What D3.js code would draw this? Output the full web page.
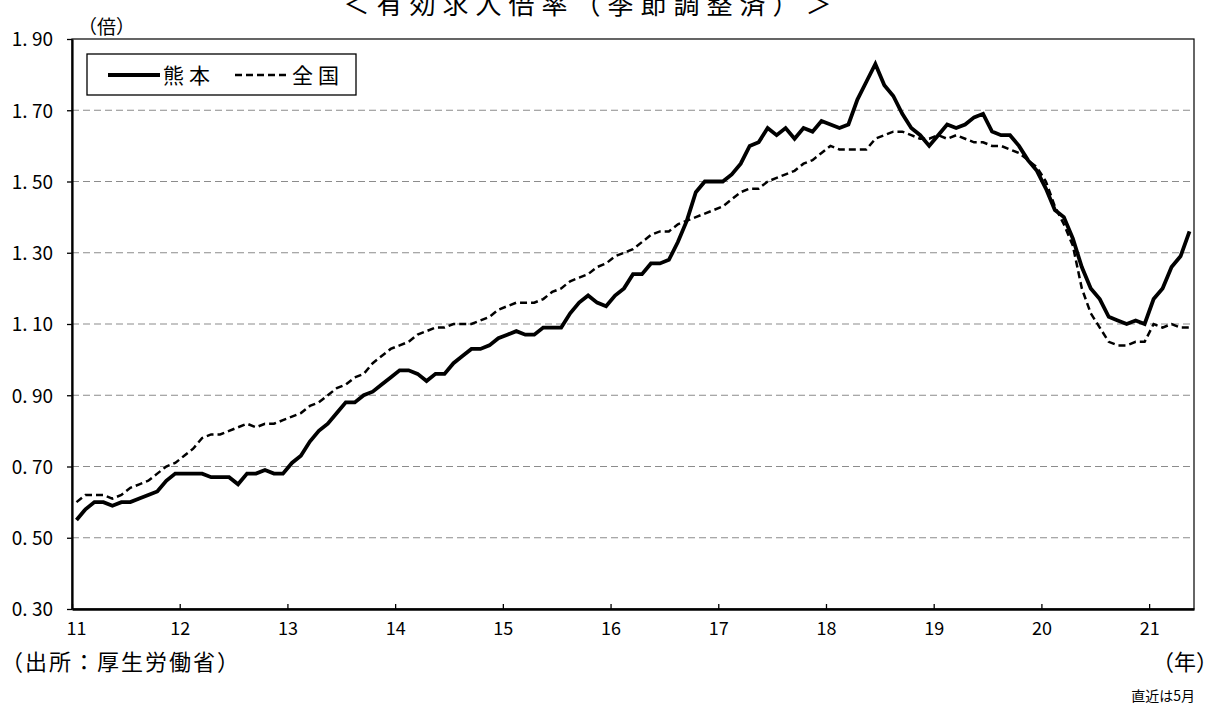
<!DOCTYPE html>
<html><head><meta charset="utf-8">
<script src="https://cdn.jsdelivr.net/npm/d3@7"></script>
<style>
html,body{margin:0;padding:0;background:#fff;}
svg{display:block;font-family:"Noto Sans CJK JP","Noto Sans",sans-serif;}
</style></head>
<body><svg id="c" width="1219" height="704"></svg>
<script>
// 熊本 (solid) monthly, Jan 2011 - May 2021
const kumamoto = [0.55,0.58,0.60,0.60,0.59,0.60,0.60,0.61,0.62,0.63,0.66,0.68,
0.68,0.68,0.68,0.67,0.67,0.67,0.65,0.68,0.68,0.69,0.68,0.68,
0.71,0.73,0.77,0.80,0.82,0.85,0.88,0.88,0.90,0.91,0.93,0.95,
0.97,0.97,0.96,0.94,0.96,0.96,0.99,1.01,1.03,1.03,1.04,1.06,
1.07,1.08,1.07,1.07,1.09,1.09,1.09,1.13,1.16,1.18,1.16,1.15,
1.18,1.20,1.24,1.24,1.27,1.27,1.28,1.33,1.39,1.47,1.50,1.50,
1.50,1.52,1.55,1.60,1.61,1.65,1.63,1.65,1.62,1.65,1.64,1.67,
1.66,1.65,1.66,1.73,1.78,1.83,1.77,1.74,1.69,1.65,1.63,1.60,
1.63,1.66,1.65,1.66,1.68,1.69,1.64,1.63,1.63,1.60,1.56,1.53,
1.48,1.42,1.40,1.34,1.26,1.20,1.17,1.12,1.11,1.10,1.11,1.10,
1.17,1.20,1.26,1.29,1.36];
// 全国 (dashed)
const zenkoku = [0.60,0.62,0.62,0.62,0.61,0.62,0.64,0.65,0.66,0.68,0.70,0.71,
0.73,0.75,0.78,0.79,0.79,0.80,0.81,0.82,0.81,0.82,0.82,0.83,
0.84,0.85,0.87,0.88,0.90,0.92,0.93,0.95,0.96,0.99,1.01,1.03,
1.04,1.05,1.07,1.08,1.09,1.09,1.10,1.10,1.10,1.11,1.12,1.14,
1.15,1.16,1.16,1.16,1.17,1.19,1.20,1.22,1.23,1.24,1.26,1.27,
1.29,1.30,1.31,1.33,1.35,1.36,1.36,1.38,1.39,1.40,1.41,1.42,
1.43,1.45,1.47,1.48,1.48,1.50,1.51,1.52,1.53,1.55,1.56,1.58,
1.60,1.59,1.59,1.59,1.59,1.62,1.63,1.64,1.64,1.63,1.62,1.62,
1.63,1.62,1.63,1.62,1.61,1.61,1.60,1.60,1.59,1.58,1.56,1.54,
1.50,1.43,1.38,1.32,1.20,1.13,1.09,1.05,1.04,1.04,1.05,1.05,
1.10,1.09,1.10,1.09,1.09];
const yearLabels = ["11","12","13","14","15","16","17","18","19","20","21"];
const yTicks = [0.30,0.50,0.70,0.90,1.10,1.30,1.50,1.70,1.90];
const seriesNames = ["熊本","全国"];

const svg = d3.select("#c");
const L = 72, R = 1194, T = 39, B = 609;
const n = kumamoto.length;
const x = d3.scaleLinear().domain([0, n]).range([L, R]);
const y = d3.scaleLinear().domain([0.30, 1.90]).range([B, T]);

// title (partially cut off at top, as in the reference)
svg.append("text").attr("x", 591).attr("y", 14).attr("text-anchor", "middle")
  .attr("font-size", 26).attr("letter-spacing", 7).text("＜有効求人倍率（季節調整済）＞");

// gridlines
svg.append("g").selectAll("line").data(yTicks.filter(v => v > 0.31 && v < 1.89)).join("line")
  .attr("x1", L).attr("x2", R).attr("y1", d => y(d)).attr("y2", d => y(d))
  .attr("stroke", "#8c8c8c").attr("stroke-width", 1.2).attr("stroke-dasharray", "7,4");

// plot border
svg.append("rect").attr("x", L).attr("y", T).attr("width", R - L).attr("height", B - T)
  .attr("fill", "none").attr("stroke", "#000").attr("stroke-width", 1.2);

// y axis
const yAxis = d3.axisLeft(y).tickValues(yTicks).tickSizeInner(5).tickSizeOuter(0).tickPadding(14)
  .tickFormat(d => d3.format(".2f")(d).replace(".", ". "));
const gy = svg.append("g").attr("transform", `translate(${L},0)`).call(yAxis);
gy.select(".domain").attr("stroke", "#000").attr("stroke-width", 2.2);
gy.selectAll(".tick line").attr("stroke", "#000").attr("stroke-width", 1.3);
gy.selectAll("text").attr("font-size", 19).attr("fill", "#000")
  .attr("font-family", "'Noto Sans CJK JP', sans-serif").attr("dy", "0.36em")
  .style("white-space", "pre");

// x axis
const xAxis = d3.axisBottom(x).tickValues(yearLabels.map((d, i) => i * 12))
  .tickSizeInner(-5).tickSizeOuter(0).tickPadding(13)
  .tickFormat((d, i) => yearLabels[i]);
const gx = svg.append("g").attr("transform", `translate(0,${B})`).call(xAxis);
gx.select(".domain").attr("stroke", "#000").attr("stroke-width", 2.6);
gx.selectAll(".tick line").attr("stroke", "#000").attr("stroke-width", 1.3);
gx.selectAll("text").attr("font-size", 18).attr("fill", "#000")
  .attr("font-family", "'Noto Sans CJK JP', sans-serif")
  .attr("dx", (d, i) => i === 0 ? 4 : 0);

// lines
const line = d3.line().x((d, i) => x(i + 0.5)).y(d => y(d));
svg.append("path").datum(zenkoku).attr("d", line).attr("fill", "none")
  .attr("stroke", "#000").attr("stroke-width", 2.5).attr("stroke-dasharray", "7,4");
svg.append("path").datum(kumamoto).attr("d", line).attr("fill", "none")
  .attr("stroke", "#000").attr("stroke-width", 3.8).attr("stroke-linejoin", "miter");

// legend
const lg = svg.append("g");
lg.append("rect").attr("x", 87).attr("y", 54).attr("width", 269).attr("height", 41)
  .attr("fill", "#fff").attr("stroke", "#000").attr("stroke-width", 1.3);
lg.append("line").attr("x1", 108).attr("x2", 160).attr("y1", 75).attr("y2", 75)
  .attr("stroke", "#000").attr("stroke-width", 3.8);
lg.append("text").attr("x", 163).attr("y", 83).attr("font-size", 21).attr("letter-spacing", 5).text(seriesNames[0]);
lg.append("line").attr("x1", 235).attr("x2", 290).attr("y1", 75).attr("y2", 75)
  .attr("stroke", "#000").attr("stroke-width", 2.5).attr("stroke-dasharray", "7,4");
lg.append("text").attr("x", 292).attr("y", 83).attr("font-size", 21).attr("letter-spacing", 5).text(seriesNames[1]);

// annotations
svg.append("text").attr("x", 78).attr("y", 34).attr("font-size", 19).text("（倍）");
svg.append("text").attr("x", 1).attr("y", 670).attr("font-size", 22).attr("letter-spacing", 2).text("（出所：厚生労働省）");
svg.append("text").attr("x", 1218).attr("y", 670).attr("text-anchor", "end").attr("font-size", 22).text("（年）");
svg.append("text").attr("x", 1195).attr("y", 701).attr("text-anchor", "end").attr("font-size", 14).text("直近は5月");
</script></body></html>
